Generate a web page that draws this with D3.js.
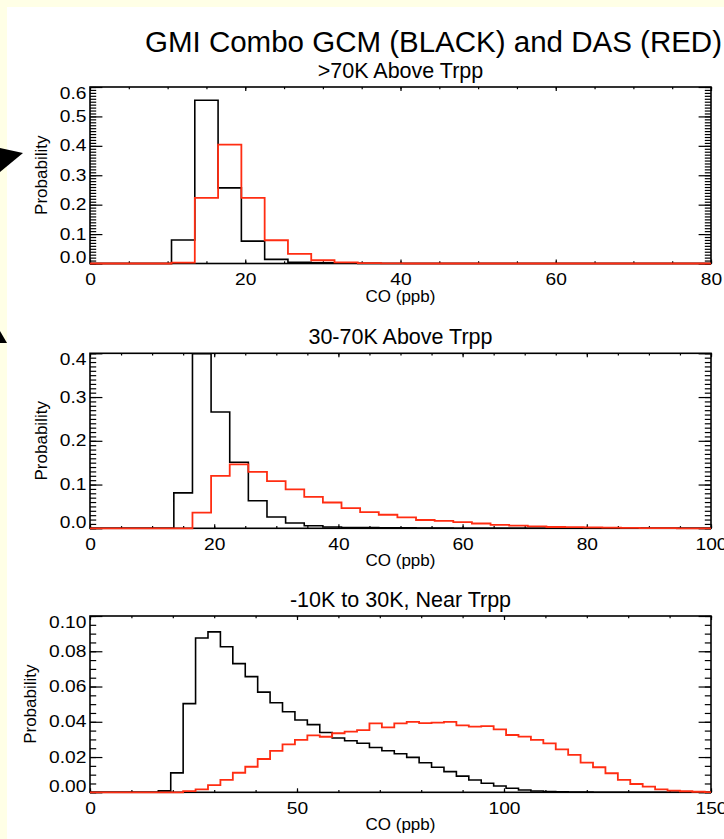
<!DOCTYPE html>
<html>
<head>
<meta charset="utf-8">
<script src="https://cdn.jsdelivr.net/npm/d3@7"></script>
<style>
body { margin: 0; background: #fff; }
svg { display: block; font-family: "Liberation Sans", Arial, sans-serif; }
.tick line { stroke: #000; stroke-width: 1.2; }
.tick text { font-size: 16px; fill: #000; }
</style>
</head>
<body>
<svg width="724" height="839"></svg>
<script>
// bins are 3 ppb wide, centred on 0, 3, 6, ...
var binWidth = 3;

var mainTitle = "GMI Combo GCM (BLACK) and DAS (RED)";
var panelTitles = [">70K Above Trpp", "30-70K Above Trpp", "-10K to 30K, Near Trpp"];

// >70K above tropopause
var black1 = [0, 0, 0, 0, 0.080, 0.555, 0.257, 0.076, 0.014, 0.004, 0.002, 0.001, 0.0005, 0,
    0, 0, 0, 0, 0, 0, 0, 0, 0, 0, 0, 0, 0, 0];
var red1 = [0, 0, 0, 0, 0.003, 0.223, 0.404, 0.223, 0.079, 0.033, 0.011, 0.004, 0.0015, 0.0005,
    0, 0, 0, 0, 0, 0, 0, 0, 0, 0, 0, 0, 0, 0];

// 30-70K above tropopause
var black2 = [0, 0, 0, 0, 0, 0.081, 0.399, 0.266, 0.151, 0.063, 0.026, 0.012, 0.006, 0.003,
    0.002, 0.0015, 0.001, 0.001, 0.0005, 0.0005, 0, 0, 0, 0, 0, 0, 0, 0, 0, 0, 0, 0, 0, 0, 0];
var red2 = [0, 0, 0, 0, 0, 0, 0.036, 0.120, 0.146, 0.129, 0.108, 0.089, 0.072, 0.059, 0.046,
    0.037, 0.031, 0.025, 0.019, 0.017, 0.014, 0.011, 0.008, 0.006, 0.0045, 0.003, 0.0025,
    0.002, 0.0015, 0.001, 0.0005, 0.0003, 0, 0, 0];

// -10K to 30K, near tropopause
var black3 = [0, 0, 0, 0, 0, 0, 0.0008, 0.011, 0.0503, 0.0875, 0.091, 0.0826, 0.073, 0.0656,
    0.0568, 0.0508, 0.0457, 0.041, 0.0384, 0.0339, 0.0308, 0.0292, 0.0278, 0.0254, 0.0236,
    0.0219, 0.0198, 0.0168, 0.0142, 0.0117, 0.0092, 0.0070, 0.0051, 0.0036, 0.0023, 0.0013,
    0.0007, 0.0004, 0.0003, 0.0002, 0.0001, 0, 0, 0, 0, 0, 0, 0, 0, 0, 0, 0];
var red3 = [0, 0, 0, 0, 0, 0, 0, 0, 0.0007, 0.0017, 0.0041, 0.0070, 0.0111, 0.0145, 0.0189,
    0.0235, 0.0272, 0.0297, 0.0323, 0.0315, 0.0335, 0.0344, 0.0353, 0.0391, 0.0368, 0.0391,
    0.0400, 0.0392, 0.0395, 0.0400, 0.0380, 0.0372, 0.0375, 0.0357, 0.0325, 0.0316, 0.0297,
    0.0278, 0.0244, 0.0212, 0.0168, 0.0142, 0.0108, 0.0070, 0.0047, 0.0032, 0.0017, 0.0009,
    0.0006, 0.0003, 0.0001, 0];

var panels = [
    {black: black1, red: red1, xMax: 80, xMajor: 20, xMinor: 5, yMax: 0.6, yMajor: 0.1, yMinor: 0.01, fmt: ".1f", top: 87, bottom: 263.5, yTitleX: 47},
    {black: black2, red: red2, xMax: 100, xMajor: 20, xMinor: 5, yMax: 0.4, yMajor: 0.1, yMinor: 0.01, fmt: ".1f", top: 353.3, bottom: 528.3, yTitleX: 47},
    {black: black3, red: red3, xMax: 150, xMajor: 50, xMinor: 10, yMax: 0.1, yMajor: 0.02, yMinor: 0.005, fmt: ".2f", top: 616, bottom: 792.3, yTitleX: 36}
];

var left = 90, right = 711;
var redColor = "#ff2d12";

var svg = d3.select("svg");

// yellow page behind the white chart image
svg.append("rect").attr("width", 724).attr("height", 839).attr("fill", "#ffffe6");
svg.append("rect").attr("x", 7).attr("y", 7).attr("width", 717).attr("height", 832).attr("fill", "#fff");
svg.append("path").attr("d", "M0,148L23,153L0,172Z").attr("fill", "#000");
svg.append("path").attr("d", "M0,331L7,343L0,343Z").attr("fill", "#000");

svg.append("text")
    .attr("x", 433.5)
    .attr("y", 52)
    .attr("text-anchor", "middle")
    .style("font-size", "29.5px")
    .text(mainTitle);

function cleanAxis(g) {
    g.attr("font-size", null).attr("font-family", null);
    g.select(".domain").remove();
}

panels.forEach(function(p, k) {
    var x = d3.scaleLinear().domain([0, p.xMax]).range([left, right]);
    var y = d3.scaleLinear().domain([0, p.yMax]).range([p.bottom, p.top]);
    var g = svg.append("g");

    var xMaj = d3.range(0, p.xMax + 1e-9, p.xMajor),
        xMin = d3.range(0, p.xMax + 1e-9, p.xMinor),
        yMaj = d3.range(0, p.yMax + 1e-9, p.yMajor),
        yMin = d3.range(0, p.yMax + 1e-9, p.yMinor);

    // minor ticks, all four sides
    g.append("g").attr("transform", "translate(0," + p.bottom + ")")
        .call(d3.axisBottom(x).tickValues(xMin).tickSize(-2.2).tickFormat("")).call(cleanAxis);
    g.append("g").attr("transform", "translate(0," + p.top + ")")
        .call(d3.axisTop(x).tickValues(xMin).tickSize(-2.2).tickFormat("")).call(cleanAxis);
    g.append("g").attr("transform", "translate(" + left + ",0)")
        .call(d3.axisLeft(y).tickValues(yMin).tickSize(-6.2).tickFormat("")).call(cleanAxis);
    g.append("g").attr("transform", "translate(" + right + ",0)")
        .call(d3.axisRight(y).tickValues(yMin).tickSize(-6.2).tickFormat("")).call(cleanAxis);

    // major ticks and labels
    g.append("g").attr("transform", "translate(0," + p.bottom + ")")
        .call(d3.axisBottom(x).tickValues(xMaj).tickSize(-4).tickPadding(10.5).tickFormat(d3.format("d")))
        .call(cleanAxis)
        .selectAll("text").attr("transform", "scale(1.2,1)");
    g.append("g").attr("transform", "translate(0," + p.top + ")")
        .call(d3.axisTop(x).tickValues(xMaj).tickSize(-4).tickFormat("")).call(cleanAxis);
    var yAxis = g.append("g").attr("transform", "translate(" + left + ",0)")
        .call(d3.axisLeft(y).tickValues(yMaj).tickSize(-12.4).tickPadding(3).tickFormat(d3.format(p.fmt)))
        .call(cleanAxis);
    yAxis.selectAll("text").attr("transform", "scale(1.2,1)");
    // end labels are kept inside the axis range
    yAxis.selectAll(".tick text").filter(function(d) { return d === 0; }).attr("y", -6);
    yAxis.selectAll(".tick text").filter(function(d) { return Math.abs(d - p.yMax) < 1e-9; }).attr("y", 6);
    g.append("g").attr("transform", "translate(" + right + ",0)")
        .call(d3.axisRight(y).tickValues(yMaj).tickSize(-12.4).tickFormat("")).call(cleanAxis);

    g.append("rect")
        .attr("x", left).attr("y", p.top)
        .attr("width", right - left).attr("height", p.bottom - p.top)
        .attr("fill", "none").attr("stroke", "#000").attr("stroke-width", 1.6);

    svg.append("clipPath").attr("id", "clip" + k)
        .append("rect")
        .attr("x", left).attr("y", p.top - 2)
        .attr("width", right - left).attr("height", p.bottom - p.top + 4);

    var line = d3.line()
        .x(function(d, i) { return x(i * binWidth); })
        .y(function(d) { return y(d); })
        .curve(d3.curveStep);

    g.append("path").datum(p.black)
        .attr("clip-path", "url(#clip" + k + ")")
        .attr("d", line)
        .attr("fill", "none").attr("stroke", "#000").attr("stroke-width", 1.6);
    g.append("path").datum(p.red)
        .attr("clip-path", "url(#clip" + k + ")")
        .attr("d", line)
        .attr("fill", "none").attr("stroke", redColor).attr("stroke-width", 1.8);

    g.append("text")
        .attr("x", (left + right) / 2)
        .attr("y", p.top - 9)
        .attr("text-anchor", "middle")
        .style("font-size", "21.5px")
        .text(panelTitles[k]);

    g.append("text")
        .attr("x", (left + right) / 2)
        .attr("y", p.bottom + 38)
        .attr("text-anchor", "middle")
        .style("font-size", "17px")
        .text("CO (ppb)");

    g.append("text")
        .attr("transform", "translate(" + p.yTitleX + "," + (p.top + p.bottom) / 2 + ") rotate(-90)")
        .attr("text-anchor", "middle")
        .style("font-size", "17px")
        .text("Probability");
});
</script>
</body>
</html>
